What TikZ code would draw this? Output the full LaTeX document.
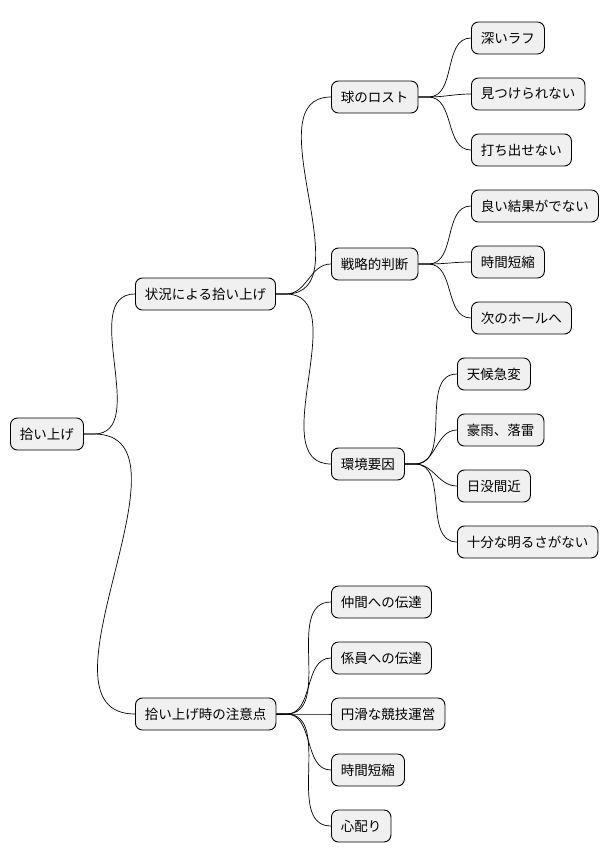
\documentclass[tikz,border=0pt]{standalone}
\usepackage{fontspec}
\setmainfont{Noto Sans CJK JP}
\begin{document}
\begin{tikzpicture}[x=1pt,y=-1pt,
  topic/.style={draw=black,fill=black!6,rounded corners=7pt,minimum height=32pt,inner xsep=9.5pt,anchor=west,font=\fontsize{13.5}{15}\selectfont,line width=0.9pt},
  link/.style={draw=black,line width=0.7pt}]
\useasboundingbox (0,0) rectangle (614,865);
\node[topic] (r) at (10,434) {拾い上げ};
\node[topic] (a) at (135,294) {状況による拾い上げ};
\node[topic] (b) at (135,714) {拾い上げ時の注意点};
\node[topic] (a1) at (331,97) {球のロスト};
\node[topic] (a2) at (331,264) {戦略的判断};
\node[topic] (a3) at (331,464) {環境要因};
\node[topic] (a11) at (471,38) {深いラフ};
\node[topic] (a12) at (471,94) {見つけられない};
\node[topic] (a13) at (471,150) {打ち出せない};
\node[topic] (a21) at (471,206) {良い結果がでない};
\node[topic] (a22) at (471,262) {時間短縮};
\node[topic] (a23) at (471,318) {次のホールへ};
\node[topic] (a31) at (457,374) {天候急変};
\node[topic] (a32) at (457,430) {豪雨、落雷};
\node[topic] (a33) at (457,486) {日没間近};
\node[topic] (a34) at (457,542) {十分な明るさがない};
\node[topic] (b1) at (331,602) {仲間への伝達};
\node[topic] (b2) at (331,658) {係員への伝達};
\node[topic] (b3) at (331,714) {円滑な競技運営};
\node[topic] (b4) at (331,770) {時間短縮};
\node[topic] (b5) at (331,826) {心配り};
\foreach \p/\c in {r/a,r/b,a/a1,a/a2,a/a3,a1/a11,a1/a12,a1/a13,a2/a21,a2/a22,a2/a23,a3/a31,a3/a32,a3/a33,a3/a34,b/b1,b/b2,b/b3,b/b4,b/b5}
  \draw[link] (\p.east) -- ++(10,0) to[out=0,in=180] (\c.west);
\end{tikzpicture}
\end{document}
